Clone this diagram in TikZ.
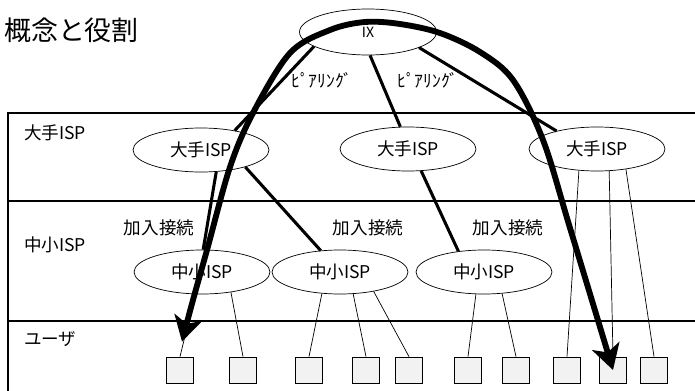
\documentclass[tikz,border=0pt]{standalone}
\usepackage{fontspec}
\setmainfont{Noto Sans CJK JP}
\usetikzlibrary{shapes.geometric,arrows.meta,calc}

\begin{document}
\begin{tikzpicture}[x=0.03cm,y=-0.03cm,
	every node/.style={font=\fontsize{15}{17}\selectfont},
	isp/.style={ellipse,draw,line width=0.6pt,minimum width=4.08cm,minimum height=1.32cm,inner sep=0pt},
	user/.style={draw,fill=gray!10,line width=0.6pt,minimum width=0.81cm,minimum height=0.78cm,inner sep=0pt},
	peer/.style={line width=2.6pt},
	wire/.style={line width=0.6pt},
	flow/.style={line width=5pt,{Stealth[length=0.75cm,width=0.85cm,inset=0.2cm]}-{Stealth[length=0.75cm,width=0.85cm,inset=0.2cm]}}]
	\useasboundingbox (0,0) rectangle (695,391);
	\draw[line width=1.2pt] (695,113) -- (8,113) -- (8,391);
	\draw[line width=1.2pt] (8,201) -- (695,201);
	\draw[line width=1.2pt] (8,321) -- (695,321);
	\node[anchor=west,font=\fontsize{23}{26}\selectfont] (title) at (0,30) {概念と役割};
	\node[anchor=west] (rowa) at (20,133) {大手ISP};
	\node[anchor=west] (rowb) at (20,245) {中小ISP};
	\node[anchor=west] (rowc) at (20,339) {ユーザ};

	\node[isp,minimum width=4.11cm,minimum height=1.38cm,font=\fontsize{12}{14}\selectfont] (ix) at (368,32) {IX};
	\node[isp] (big1) at (201,150) {大手ISP};
	\node[isp] (big2) at (408,149) {大手ISP};
	\node[isp] (big3) at (597,149) {大手ISP};
	\node[isp] (sm1) at (202,272) {中小ISP};
	\node[isp] (sm2) at (340,272) {中小ISP};
	\node[isp] (sm3) at (484,272) {中小ISP};

	\node[user] (u1) at (180,370) {};
	\node[user] (u2) at (243,370) {};
	\node[user] (u3) at (309,370) {};
	\node[user] (u4) at (366,370) {};
	\node[user] (u5) at (409,370) {};
	\node[user] (u6) at (468,370) {};
	\node[user] (u7) at (516,370) {};
	\node[user] (u8) at (567,370) {};
	\node[user] (u9) at (613,370) {};
	\node[user] (u10) at (654,370) {};

	\node (peer1) at (322,80) {ﾋﾟｱﾘﾝｸﾞ};
	\node (peer2) at (428,80) {ﾋﾟｱﾘﾝｸﾞ};
	\node (join1) at (159,228) {加入接続};
	\node (join2) at (368,228) {加入接続};
	\node (join3) at (508,228) {加入接続};

	\draw[peer] (ix.195) -- (big1.30);
	\draw[peer] (ix.275) -- (big2.109);
	\draw[peer] (ix.343) -- (big3.156);
	\draw[peer] (big1.305) -- (sm1.87);
	\draw[peer] (big1.339) -- (sm2.132);
	\draw[peer] (big2.301) -- (sm3.141);

	\draw[wire] (sm1.253) -- (u1.north);
	\draw[wire] (sm1.325) -- (u2.north);
	\draw[wire] (sm2.230) -- (u3.north);
	\draw[wire] (sm2.301) -- (u4.north);
	\draw[wire] (sm2.330) -- (u5.north);
	\draw[wire] (sm3.250) -- (u6.north);
	\draw[wire] (sm3.310) -- (u7.north);
	\draw[wire] (big3.230) -- (u8.north);
	\draw[wire] (big3.299) -- (u9.north);
	\draw[wire] (big3.325) -- (u10.north);

	\coordinate (src) at ($(u1.north)+(2,-15)$);
	\draw[flow] plot[smooth,tension=0.55] coordinates {(src) (193,300) (207,250) (230,167) (253,113) (290,53) (330,30) (365,22) (400,24) (440,33) (480,52) (513,80) (543,140) (570,228) (u9.center)};
\end{tikzpicture}
\end{document}
